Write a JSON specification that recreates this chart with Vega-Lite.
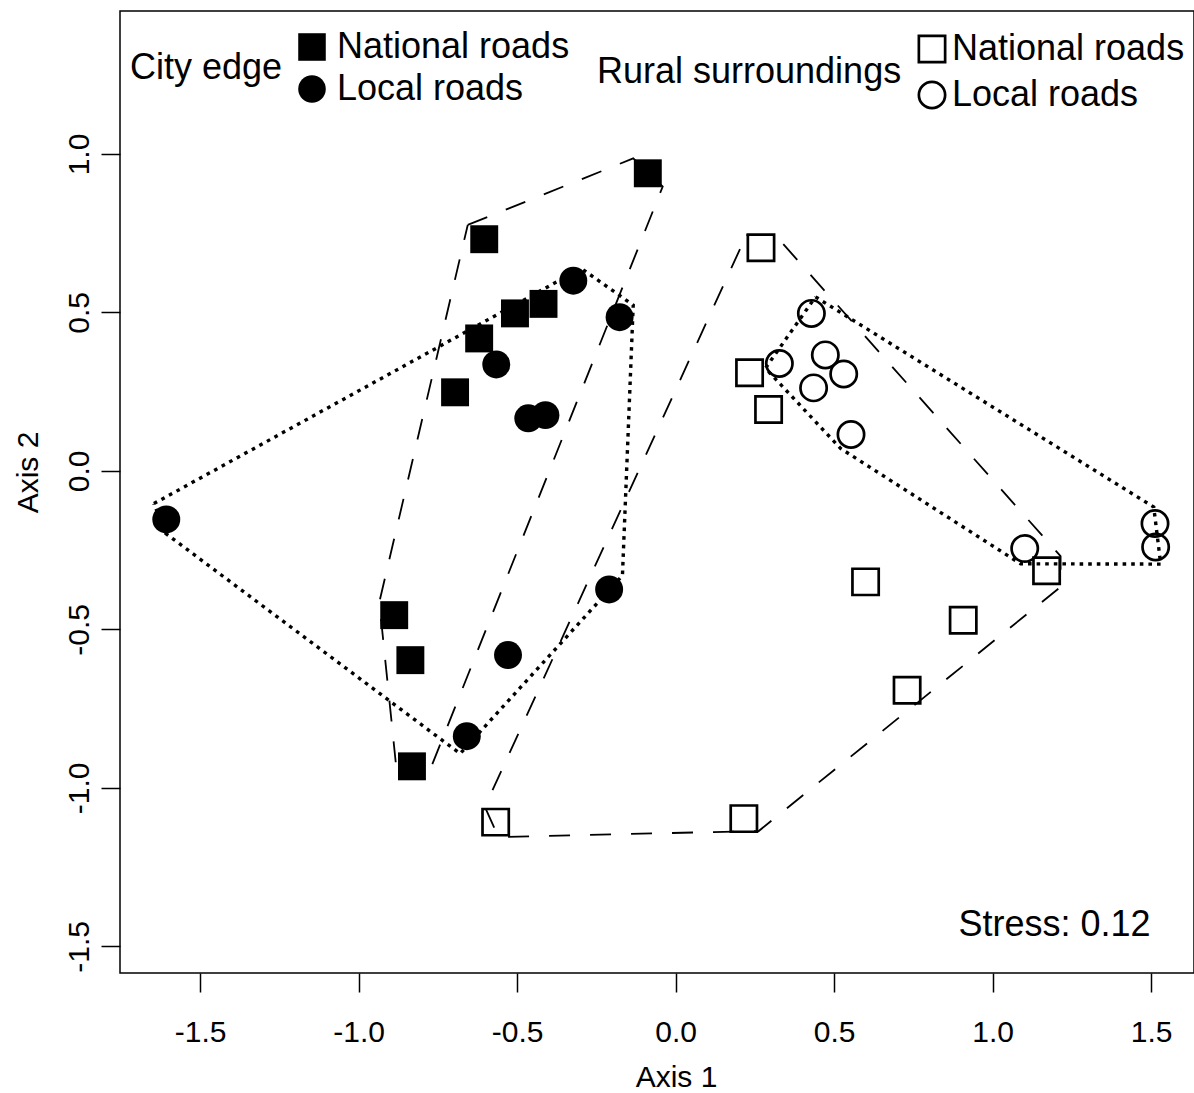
{
  "$schema": "https://vega.github.io/schema/vega-lite/v6.json",
  "width": 1074,
  "height": 962,
  "autosize": {"type": "none"},
  "padding": {"left": 120, "top": 11, "right": 0, "bottom": 120},
  "background": "white",
  "config": {
    "font": "Liberation Sans",
    "view": {"stroke": "black", "strokeWidth": 1.5},
    "axis": {
      "domain": false, "grid": false, "ticks": true,
      "tickColor": "black", "tickWidth": 1.5, "tickSize": 19,
      "labelFont": "Liberation Sans", "labelFontSize": 30, "labelColor": "black",
      "titleFont": "Liberation Sans", "titleFontSize": 30, "titleFontWeight": "normal", "titleColor": "black"
    },
    "legend": {
      "labelFont": "Liberation Sans", "labelFontSize": 36, "labelColor": "black",
      "titleFont": "Liberation Sans", "titleFontSize": 36, "titleFontWeight": "normal", "titleColor": "black",
      "symbolSize": 760, "symbolStrokeWidth": 2.7, "padding": 0, "labelOffset": 7,
      "rowPadding": 6, "titlePadding": 11, "titleOrient": "left", "titleBaseline": "middle", "titleAnchor": "middle",
      "labelLimit": 0, "titleLimit": 0
    }
  },
  "datasets": {
    "points": [
      {"location": "City edge", "road": "National roads", "axis1": -0.088, "axis2": 0.939},
      {"location": "City edge", "road": "National roads", "axis1": -0.604, "axis2": 0.731},
      {"location": "City edge", "road": "National roads", "axis1": -0.507, "axis2": 0.497},
      {"location": "City edge", "road": "National roads", "axis1": -0.417, "axis2": 0.527},
      {"location": "City edge", "road": "National roads", "axis1": -0.620, "axis2": 0.418},
      {"location": "City edge", "road": "National roads", "axis1": -0.696, "axis2": 0.248},
      {"location": "City edge", "road": "National roads", "axis1": -0.888, "axis2": -0.455},
      {"location": "City edge", "road": "National roads", "axis1": -0.837, "axis2": -0.597},
      {"location": "City edge", "road": "National roads", "axis1": -0.832, "axis2": -0.932},
      {"location": "City edge", "road": "Local roads", "axis1": -1.607, "axis2": -0.153},
      {"location": "City edge", "road": "Local roads", "axis1": -0.323, "axis2": 0.600},
      {"location": "City edge", "road": "Local roads", "axis1": -0.177, "axis2": 0.485},
      {"location": "City edge", "road": "Local roads", "axis1": -0.566, "axis2": 0.336},
      {"location": "City edge", "road": "Local roads", "axis1": -0.465, "axis2": 0.166},
      {"location": "City edge", "road": "Local roads", "axis1": -0.411, "axis2": 0.176},
      {"location": "City edge", "road": "Local roads", "axis1": -0.210, "axis2": -0.374},
      {"location": "City edge", "road": "Local roads", "axis1": -0.529, "axis2": -0.581},
      {"location": "City edge", "road": "Local roads", "axis1": -0.659, "axis2": -0.837},
      {"location": "Rural surroundings", "road": "National roads", "axis1": 0.269, "axis2": 0.704},
      {"location": "Rural surroundings", "road": "National roads", "axis1": 0.233, "axis2": 0.310},
      {"location": "Rural surroundings", "road": "National roads", "axis1": 0.293, "axis2": 0.194},
      {"location": "Rural surroundings", "road": "National roads", "axis1": 0.599, "axis2": -0.350},
      {"location": "Rural surroundings", "road": "National roads", "axis1": 0.907, "axis2": -0.471},
      {"location": "Rural surroundings", "road": "National roads", "axis1": 0.730, "axis2": -0.692},
      {"location": "Rural surroundings", "road": "National roads", "axis1": 1.170, "axis2": -0.315},
      {"location": "Rural surroundings", "road": "National roads", "axis1": -0.568, "axis2": -1.108},
      {"location": "Rural surroundings", "road": "National roads", "axis1": 0.215, "axis2": -1.097},
      {"location": "Rural surroundings", "road": "Local roads", "axis1": 0.428, "axis2": 0.497},
      {"location": "Rural surroundings", "road": "Local roads", "axis1": 0.327, "axis2": 0.339},
      {"location": "Rural surroundings", "road": "Local roads", "axis1": 0.472, "axis2": 0.366},
      {"location": "Rural surroundings", "road": "Local roads", "axis1": 0.530, "axis2": 0.306},
      {"location": "Rural surroundings", "road": "Local roads", "axis1": 0.435, "axis2": 0.262},
      {"location": "Rural surroundings", "road": "Local roads", "axis1": 0.553, "axis2": 0.115},
      {"location": "Rural surroundings", "road": "Local roads", "axis1": 1.101, "axis2": -0.245},
      {"location": "Rural surroundings", "road": "Local roads", "axis1": 1.512, "axis2": -0.166},
      {"location": "Rural surroundings", "road": "Local roads", "axis1": 1.514, "axis2": -0.240}
    ],
    "hulls": [
      {"location": "City edge", "road": "National roads", "vertex": 1, "axis1": -0.656, "axis2": 0.776},
      {"location": "City edge", "road": "National roads", "vertex": 2, "axis1": -0.134, "axis2": 0.986},
      {"location": "City edge", "road": "National roads", "vertex": 3, "axis1": -0.041, "axis2": 0.897},
      {"location": "City edge", "road": "National roads", "vertex": 4, "axis1": -0.786, "axis2": -0.971},
      {"location": "City edge", "road": "National roads", "vertex": 5, "axis1": -0.878, "axis2": -0.970},
      {"location": "City edge", "road": "National roads", "vertex": 6, "axis1": -0.935, "axis2": -0.414},
      {"location": "City edge", "road": "National roads", "vertex": 7, "axis1": -0.656, "axis2": 0.776},
      {"location": "City edge", "road": "Local roads", "vertex": 1, "axis1": -1.646, "axis2": -0.103},
      {"location": "City edge", "road": "Local roads", "vertex": 2, "axis1": -0.298, "axis2": 0.639},
      {"location": "City edge", "road": "Local roads", "vertex": 3, "axis1": -0.134, "axis2": 0.523},
      {"location": "City edge", "road": "Local roads", "vertex": 4, "axis1": -0.168, "axis2": -0.330},
      {"location": "City edge", "road": "Local roads", "vertex": 5, "axis1": -0.680, "axis2": -0.892},
      {"location": "City edge", "road": "Local roads", "vertex": 6, "axis1": -1.609, "axis2": -0.197},
      {"location": "City edge", "road": "Local roads", "vertex": 7, "axis1": -1.646, "axis2": -0.103},
      {"location": "Rural surroundings", "road": "National roads", "vertex": 1, "axis1": 0.223, "axis2": 0.744},
      {"location": "Rural surroundings", "road": "National roads", "vertex": 2, "axis1": 0.314, "axis2": 0.744},
      {"location": "Rural surroundings", "road": "National roads", "vertex": 3, "axis1": 1.214, "axis2": -0.269},
      {"location": "Rural surroundings", "road": "National roads", "vertex": 4, "axis1": 1.214, "axis2": -0.366},
      {"location": "Rural surroundings", "road": "National roads", "vertex": 5, "axis1": 0.262, "axis2": -1.136},
      {"location": "Rural surroundings", "road": "National roads", "vertex": 6, "axis1": -0.559, "axis2": -1.155},
      {"location": "Rural surroundings", "road": "National roads", "vertex": 7, "axis1": -0.602, "axis2": -1.060},
      {"location": "Rural surroundings", "road": "National roads", "vertex": 8, "axis1": 0.223, "axis2": 0.744},
      {"location": "Rural surroundings", "road": "Local roads", "vertex": 1, "axis1": 0.441, "axis2": 0.549},
      {"location": "Rural surroundings", "road": "Local roads", "vertex": 2, "axis1": 1.508, "axis2": -0.114},
      {"location": "Rural surroundings", "road": "Local roads", "vertex": 3, "axis1": 1.530, "axis2": -0.294},
      {"location": "Rural surroundings", "road": "Local roads", "vertex": 4, "axis1": 1.088, "axis2": -0.293},
      {"location": "Rural surroundings", "road": "Local roads", "vertex": 5, "axis1": 0.520, "axis2": 0.071},
      {"location": "Rural surroundings", "road": "Local roads", "vertex": 6, "axis1": 0.283, "axis2": 0.324},
      {"location": "Rural surroundings", "road": "Local roads", "vertex": 7, "axis1": 0.441, "axis2": 0.549}
    ],
    "note": [{"text": "Stress: 0.12"}]
  },
  "layer": [
    {
      "data": {"name": "hulls"},
      "transform": [{"filter": "datum.road === 'National roads'"}],
      "mark": {"type": "line", "color": "black", "strokeWidth": 1.8, "strokeDash": [21, 20]},
      "encoding": {
        "x": {
          "field": "axis1", "type": "quantitative",
          "scale": {"domain": [-1.753, 1.635], "nice": false, "zero": false},
          "axis": {
            "title": "Axis 1", "values": [-1.5, -1, -0.5, 0, 0.5, 1, 1.5],
            "labelExpr": "replace(format(datum.value, '.1f'), '\u2212', '-')",
            "labelBaseline": "top", "labelPadding": 25, "labelFlush": false, "labelOverlap": false,
            "titleX": 556, "titleY": 113, "titleBaseline": "alphabetic", "titleAlign": "center"
          }
        },
        "y": {
          "field": "axis2", "type": "quantitative",
          "scale": {"domain": [-1.584, 1.451], "nice": false, "zero": false},
          "axis": {
            "title": "Axis 2", "values": [-1.5, -1, -0.5, 0, 0.5, 1],
            "labelExpr": "replace(format(datum.value, '.1f'), '\u2212', '-')",
            "labelAngle": -90, "labelAlign": "center", "labelBaseline": "alphabetic", "labelPadding": 13,
            "labelFlush": false, "labelOverlap": false,
            "titleAngle": -90, "titleX": -83, "titleY": 461, "titleBaseline": "alphabetic", "titleAlign": "center"
          }
        },
        "detail": {"field": "location"},
        "order": {"field": "vertex", "type": "quantitative"}
      }
    },
    {
      "data": {"name": "hulls"},
      "transform": [{"filter": "datum.road === 'Local roads'"}],
      "mark": {"type": "line", "color": "black", "strokeWidth": 3.4, "strokeDash": [3.6, 5]},
      "encoding": {
        "x": {"field": "axis1", "type": "quantitative"},
        "y": {"field": "axis2", "type": "quantitative"},
        "detail": {"field": "location"},
        "order": {"field": "vertex", "type": "quantitative"}
      }
    },
    {
      "data": {"name": "points"},
      "transform": [{"filter": "datum.location === 'City edge'"}],
      "mark": {"type": "point", "filled": true, "color": "black", "opacity": 1, "size": 780},
      "encoding": {
        "x": {"field": "axis1", "type": "quantitative"},
        "y": {"field": "axis2", "type": "quantitative"},
        "shape": {
          "field": "road", "type": "nominal",
          "scale": {"domain": ["National roads", "Local roads"], "range": ["square", "circle"]},
          "legend": {
            "title": "City edge", "orient": "none", "legendX": 10, "legendY": 18,
            "titlePadding": 11, "labelOffset": 7,
            "symbolFillColor": "black", "symbolStrokeColor": "black", "symbolStrokeWidth": 0
          }
        }
      }
    },
    {
      "data": {"name": "points"},
      "transform": [{"filter": "datum.location === 'Rural surroundings'"}],
      "mark": {"type": "point", "filled": false, "color": "black", "opacity": 1, "size": 690, "strokeWidth": 2.7},
      "encoding": {
        "x": {"field": "axis1", "type": "quantitative"},
        "y": {"field": "axis2", "type": "quantitative"},
        "shape": {
          "field": "road", "type": "nominal",
          "scale": {"domain": ["National roads", "Local roads"], "range": ["square", "circle"]},
          "legend": {
            "title": "Rural surroundings", "orient": "none", "legendX": 477, "legendY": 20,
            "rowPadding": 8, "titlePadding": 12, "labelOffset": 2, "symbolSize": 690,
            "symbolFillColor": "transparent", "symbolStrokeColor": "black", "symbolStrokeWidth": 2.7
          }
        }
      }
    },
    {
      "data": {"name": "note"},
      "mark": {"type": "text", "align": "right", "baseline": "alphabetic", "fontSize": 36, "font": "Liberation Sans", "color": "black"},
      "encoding": {
        "x": {"datum": 1.498},
        "y": {"datum": -1.4675},
        "text": {"field": "text"}
      }
    }
  ],
  "resolve": {"scale": {"shape": "independent"}}
}
